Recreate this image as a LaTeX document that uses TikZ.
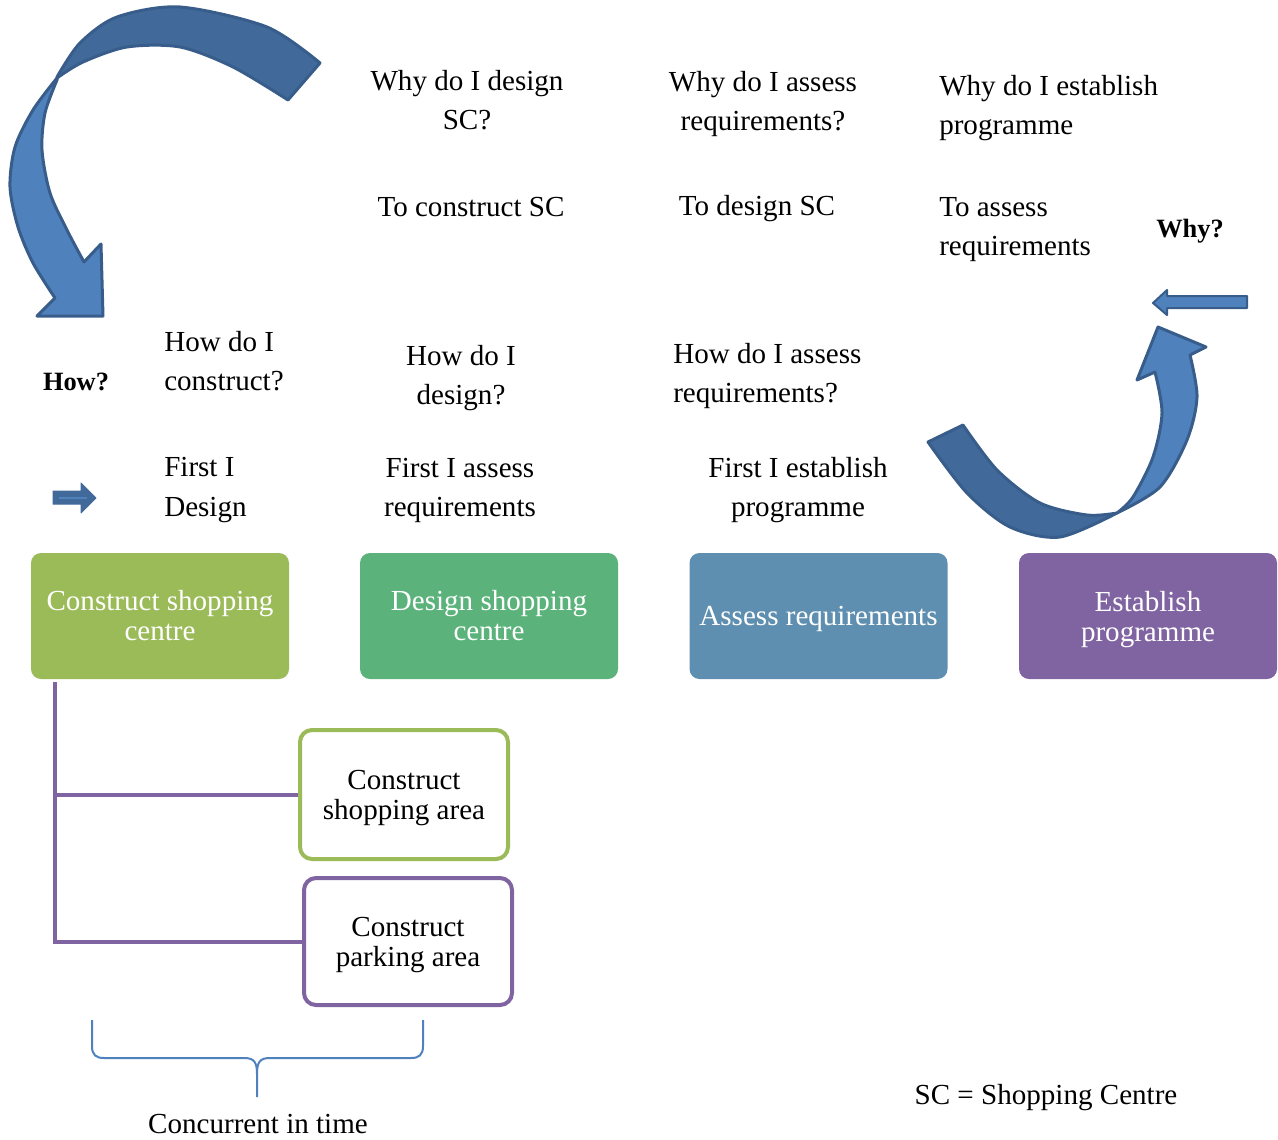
\documentclass[tikz,border=0pt]{standalone}
\usepackage{fontspec}
\setmainfont{Liberation Serif}
\definecolor{c1}{HTML}{9BBB59}
\definecolor{c2}{HTML}{5BB37B}
\definecolor{c3}{HTML}{5F8FB0}
\definecolor{c4}{HTML}{8064A2}
\definecolor{arrline}{HTML}{385D8A}
\definecolor{arrdark}{HTML}{41699A}
\definecolor{arrlight}{HTML}{4F81BD}
\definecolor{bracec}{HTML}{4F81BD}
\begin{document}
\begin{tikzpicture}[x=0.75pt,y=-0.75pt,
 lbl/.style={inner sep=0pt, font=\fontsize{21.8}{29.3}\selectfont},
 boldlbl/.style={inner sep=0pt, font=\fontsize{19.8}{24}\selectfont\bfseries},
 bigbox/.style={rounded corners=7.5pt, minimum width=193.5pt, minimum height=94.5pt, text=white, align=center, inner sep=2pt, font=\fontsize{21.8}{22.5}\selectfont},
 subbox/.style={draw, line width=3pt, rounded corners=9pt, fill=white, minimum width=156pt, align=center, text depth=0pt, font=\fontsize{21.8}{22.5}\selectfont},
 blockarrow/.style={draw=arrline, line width=2.25pt, line join=round},
 tree/.style={draw=c4, line width=3pt},
 bracestyle/.style={draw=bracec, line width=1.5pt},
]
\useasboundingbox (0,0) rectangle (1278,1139);

% curved arrow top-left
\filldraw[blockarrow, fill=arrdark] plot[smooth] coordinates {(320,63) (267,27) (180,7) (117,17) (80,43) (57,77)} -- plot[smooth] coordinates {(57,78) (83,62) (127,47) (180,47) (233,67) (288,100)} -- cycle;
\filldraw[blockarrow, fill=arrlight] plot[smooth] coordinates {(57,78) (33,110) (15,147) (10,187) (18,227) (33,263) (55,298)} -- (37,316) -- (103,316) -- (101,244) -- (84,262) -- plot[smooth] coordinates {(84,262) (67,230) (50,193) (42,150) (45,113) (57,80)} -- cycle;

% curved arrow bottom-right
\filldraw[blockarrow, fill=arrdark] plot[smooth] coordinates {(928,442) (967,493) (1010,527) (1060,537) (1117,513)} -- plot[smooth] coordinates {(1117,513) (1087,515) (1040,503) (997,470) (963,425)} -- cycle;
\filldraw[blockarrow, fill=arrlight] plot[smooth] coordinates {(1117,513) (1160,487) (1187,440) (1197,397) (1190,355)} -- (1206,347) -- (1158,327) -- (1137,380) -- plot[smooth] coordinates {(1155,372) (1162,413) (1153,457) (1133,497) (1117,513)} -- cycle;

% small arrows
\filldraw[blockarrow, fill=arrlight, line width=1.5pt] (1247,296) -- (1167,296) -- (1167,290) -- (1153,303) -- (1167,315) -- (1167,308) -- (1247,308) -- cycle;
\filldraw[fill=arrdark, draw=arrdark, line width=0.75pt, line join=round] (53,491) -- (81,491) -- (81,483) -- (96,498) -- (81,513) -- (81,504) -- (53,504) -- cycle;
\draw[arrlight, line width=2pt] (59,498) -- (87,498);

% labels
\node[lbl, align=center] (q1) at (467,100) {Why do I design\\SC?};
\node[lbl, align=center] (q2) at (763,104) {Why do I assess\\requirements?};
\node[lbl, align=left, anchor=west] (q3) at (939,108) {Why do I establish\\programme};
\node[lbl] (a1) at (471,207) {To construct SC};
\node[lbl] (a2) at (757,209) {To design SC};
\node[lbl, align=left, anchor=west] (a3) at (939,230) {To assess\\requirements};
\node[boldlbl] (why) at (1190,231) {Why?};
\node[boldlbl] (how) at (76,382) {How?};
\node[lbl, align=left, anchor=west] (h1) at (164,361) {How do I\\construct?};
\node[lbl, align=center] (h2) at (461,378) {How do I\\design?};
\node[lbl, align=left, anchor=west] (h3) at (673,376) {How do I assess\\requirements?};
\node[lbl, align=left, anchor=west] (f1) at (164,490) {First I\\Design};
\node[lbl, align=center] (f2) at (460,490) {First I assess\\requirements};
\node[lbl, align=center] (f3) at (798,490) {First I establish\\programme};

% main boxes
\node[bigbox, fill=c1] (b1) at (160,616) {Construct shopping\\centre};
\node[bigbox, fill=c2] (b2) at (489,616) {Design shopping\\centre};
\node[bigbox, fill=c3, text depth=0pt] (b3) at (818.5,616) {Assess requirements};
\node[bigbox, fill=c4, text depth=0pt] (b4) at (1148,616) {Establish\\programme};

% sub boxes
\node[subbox, draw=c1, minimum height=96.75pt] (s1) at (404,794.5) {Construct\\shopping area};
\node[subbox, draw=c4, minimum height=95.25pt] (s2) at (408,941.5) {Construct\\parking area};

% tree connectors
\coordinate (trunk) at (55,682);
\draw[tree] (trunk) |- (s2.west);
\draw[tree] (trunk) |- (s1.west);

% brace
\draw[bracestyle] (92,1020) -- (92,1046) .. controls (92,1055) and (96,1058) .. (104,1058) -- (244,1058) .. controls (254,1058) and (257,1062) .. (257,1074) -- (257,1097);
\draw[bracestyle] (423,1020) -- (423,1046) .. controls (423,1055) and (419,1058) .. (411,1058) -- (270,1058) .. controls (260,1058) and (257,1062) .. (257,1074);

\node[lbl] (conc) at (258,1124) {Concurrent in time};
\node[lbl] (sc) at (1046,1098) {SC = Shopping Centre};
\end{tikzpicture}
\end{document}
